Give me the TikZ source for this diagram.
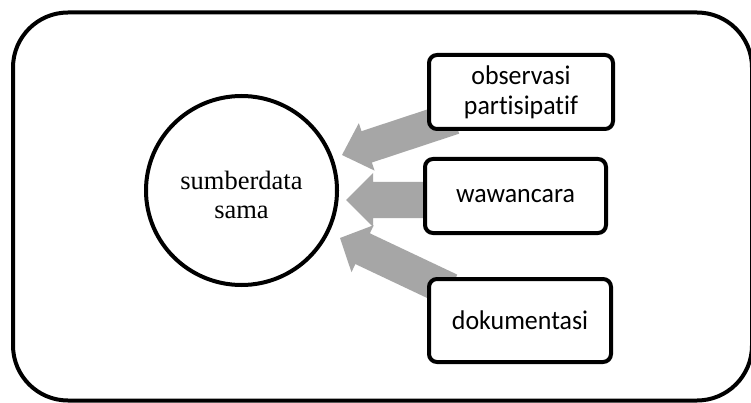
\documentclass[tikz,border=0pt]{standalone}
\usepackage{fontspec}
\setmainfont{Liberation Serif}
\newfontfamily\calib[FakeStretch=0.96,Ligatures=NoCommon]{Carlito}
\usetikzlibrary{calc,shapes.geometric}
\definecolor{arrowgray}{RGB}{166,166,166}
\pgfdeclarelayer{bg}
\pgfsetlayers{bg,main}
% tail, tip, shaft half width, head half width, head length
\newcommand\blockarrow[5]{%
  \path ($(#2)!#5!(#1)$) coordinate (ba-c);
  \fill[arrowgray] ($(#1)!#3!90:(#2)$) -- ($(ba-c)!#3!90:(#2)$) -- ($(ba-c)!#4!90:(#2)$)
    -- (#2) -- ($(ba-c)!#4!-90:(#2)$) -- ($(ba-c)!#3!-90:(#2)$) -- ($(#1)!#3!-90:(#2)$) -- cycle;}
\tikzset{
  frame/.style={line width=4pt, rounded corners=55pt},
  source/.style={ellipse, draw, line width=4pt, fill=white, inner sep=0pt},
  sourcetext/.style={align=center, inner sep=0pt, font=\fontsize{26.5}{29}\selectfont},
  method/.style={rectangle, draw, line width=4pt, rounded corners=8pt, fill=white, inner sep=0pt,
    align=center, font=\calib\fontsize{27}{30}\selectfont},
}
\begin{document}
\begin{tikzpicture}[x=1pt,y=-1pt]
\useasboundingbox (0,0) rectangle (751,403);
\begin{pgfonlayer}{bg}
\fill[white] (0,0) rectangle (751,403);
\end{pgfonlayer}
\draw[frame] (13,12.5) rectangle (752,400.5);
\node[source, minimum width=191pt, minimum height=189pt,
  label={[sourcetext, yshift=-4pt]center:{sumberdata\\sama}}] (src) at (241.5,190.5) {};
\node[method, minimum width=184pt, minimum height=74pt] (obs) at (521,92) {observasi\\partisipatif};
\node[method, minimum width=181pt, minimum height=74pt] (waw) at (515.5,196) {wawancara};
\node[method, minimum width=182pt, minimum height=83pt] (dok) at (520,320.5) {dokumentasi};
\coordinate (t1) at (454,118);
\coordinate (p1) at (342,155);
\coordinate (t2) at (440,200);
\coordinate (p2) at (346,200);
\coordinate (t3) at (450,290);
\coordinate (p3) at (340,238);
\begin{pgfonlayer}{bg}
\blockarrow{t1}{p1}{16.5pt}{25pt}{26pt}
\blockarrow{t2}{p2}{18pt}{27pt}{27pt}
\blockarrow{t3}{p3}{17pt}{26pt}{25pt}
\end{pgfonlayer}
\end{tikzpicture}
\end{document}
